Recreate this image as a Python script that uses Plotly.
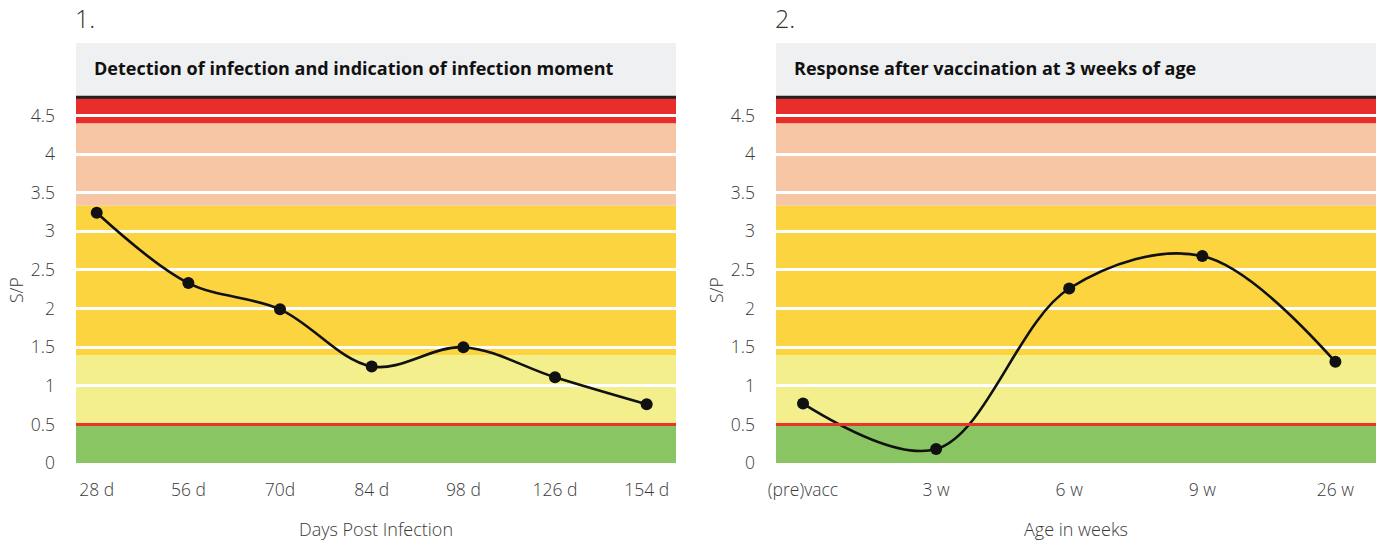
import plotly.graph_objects as go

# ---- data ----
days_labels = ["28 d", "56 d", "70d", "84 d", "98 d", "126 d", "154 d"]
days_sp = [3.24, 2.33, 1.99, 1.25, 1.50, 1.11, 0.76]

weeks_labels = ["(pre)vacc", "3 w", "6 w", "9 w", "26 w"]
weeks_sp = [0.77, 0.18, 2.26, 2.68, 1.31]

y_ticks = [0, 0.5, 1, 1.5, 2, 2.5, 3, 3.5, 4, 4.5]
y_tick_text = ["0", "0.5", "1", "1.5", "2", "2.5", "3", "3.5", "4", "4.5"]

# S/P interpretation bands (lower, upper, colour)
band_edges = [0, 0.5, 1.4, 3.33, 4.4, 4.74]
band_colors = ["#89C562", "#F2EF8C", "#FBD440", "#F7C6A5", "#E92D2A"]
cutoff = 0.5

panel_numbers = ["1.", "2."]
panel_titles = ["Detection of infection and indication of infection moment",
                "Response after vaccination at 3 weeks of age"]
x_titles = ["Days Post Infection", "Age in weeks"]

W, H = 1376, 542
FONT = "Open Sans"
TXT = "#3a3a3a"

fig = go.Figure()

fig.add_trace(go.Scatter(
    x=days_labels, y=days_sp, mode="lines+markers",
    line=dict(color="#111111", width=2.6, shape="spline", smoothing=1.0),
    marker=dict(color="#111111", size=12),
    xaxis="x", yaxis="y", showlegend=False, cliponaxis=False))
fig.add_trace(go.Scatter(
    x=weeks_labels, y=weeks_sp, mode="lines+markers",
    line=dict(color="#111111", width=2.6, shape="spline", smoothing=1.0),
    marker=dict(color="#111111", size=12),
    xaxis="x2", yaxis="y2", showlegend=False, cliponaxis=False))

ydom = [(H - 463) / H, (H - 97) / H]
xdoms = [[76 / W, 676 / W], [776 / W, 1.0]]
xranges = [[-0.226, 6.32], [-0.203, 4.305]]

tickfont = dict(family=FONT, size=17.5, color=TXT, weight=300)
yaxis_common = dict(
    range=[0, 4.74], domain=ydom, tickvals=y_ticks, ticktext=y_tick_text,
    showgrid=True, gridcolor="white", gridwidth=3, zeroline=False,
    showline=False, ticks="", ticklabelstandoff=20, automargin=False,
    tickfont=tickfont, fixedrange=True)
xaxis_common = dict(
    showgrid=False, zeroline=False, showline=False, ticks="",
    ticklabelstandoff=14, tickfont=tickfont, automargin=False,
    type="category", fixedrange=True)

fig.update_layout(
    width=W, height=H, margin=dict(l=0, r=0, t=0, b=0, pad=0),
    paper_bgcolor="white", plot_bgcolor="white",
    xaxis=dict(domain=xdoms[0], range=xranges[0], anchor="y", **xaxis_common),
    yaxis=dict(anchor="x", **yaxis_common),
    xaxis2=dict(domain=xdoms[1], range=xranges[1], anchor="y2", **xaxis_common),
    yaxis2=dict(anchor="x2", **yaxis_common),
)

shapes = []
annotations = []
for i, (xa, ya) in enumerate([("x", "y"), ("x2", "y2")]):
    # bands
    for k, col in enumerate(band_colors):
        shapes.append(dict(type="rect", xref=f"{xa} domain", yref=ya,
                           x0=0, x1=1, y0=band_edges[k], y1=band_edges[k + 1],
                           fillcolor=col, line=dict(width=0), layer="below"))
    # cutoff line
    shapes.append(dict(type="line", xref=f"{xa} domain", yref=ya,
                       x0=0, x1=1, y0=cutoff, y1=cutoff,
                       line=dict(color="#E8352B", width=3), layer="above"))
    # header box
    shapes.append(dict(type="rect", xref=f"{xa} domain", yref="paper",
                       x0=0, x1=1, y0=(H - 96.5) / H, y1=(H - 43) / H,
                       fillcolor="#EFF0F2", line=dict(width=0), layer="below"))
    # dark top border
    shapes.append(dict(type="line", xref=f"{xa} domain", yref="paper",
                       x0=0, x1=1, y0=(H - 97.3) / H, y1=(H - 97.3) / H,
                       line=dict(color="#231F20", width=3), layer="above"))

    # panel number
    annotations.append(dict(text=panel_numbers[i], xref=f"{xa} domain", yref="paper",
                            x=0, xshift=-3, y=(H - 18) / H, xanchor="left", yanchor="middle",
                            showarrow=False,
                            font=dict(family=FONT, size=25, color="#333333", weight=300)))
    # header title
    annotations.append(dict(text="<b>" + panel_titles[i] + "</b>",
                            xref=f"{xa} domain", yref="paper",
                            x=0, xshift=16, y=(H - 68) / H,
                            xanchor="left", yanchor="middle", showarrow=False,
                            font=dict(family=FONT, size=18, color="#111111")))
    # x title
    annotations.append(dict(text=x_titles[i], xref=f"{xa} domain", yref="paper",
                            x=0.5, y=(H - 529) / H, xanchor="center", yanchor="middle",
                            showarrow=False,
                            font=dict(family=FONT, size=18, color=TXT, weight=300)))
    # y title
    annotations.append(dict(text="S/P", xref=f"{xa} domain", yref="paper",
                            x=0, xshift=-60, y=(H - 290) / H,
                            xanchor="center", yanchor="middle", textangle=-90,
                            showarrow=False, font=tickfont))

fig.update_layout(shapes=shapes, annotations=annotations)

fig.write_html(
    "out.html",
    config={"displayModeBar": False},
    post_script="document.body.style.margin='0';document.body.style.overflow='hidden';",
)
